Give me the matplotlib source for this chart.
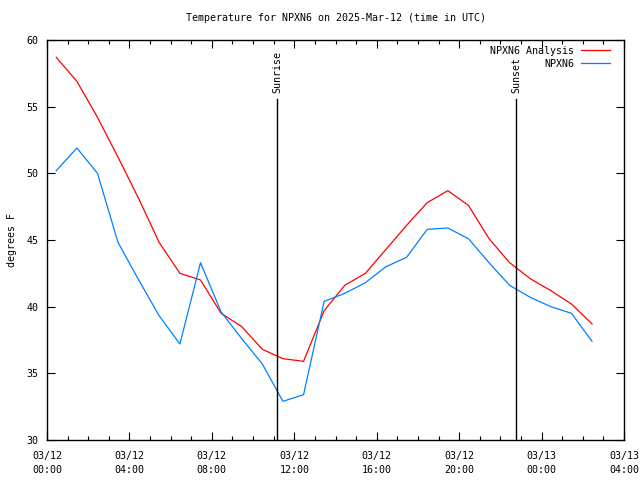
import matplotlib
matplotlib.use("Agg")
from matplotlib import pyplot as plt

# hours after 03/12 00:00 UTC
hours = [k + 0.45 for k in range(27)]

analysis = [58.7, 56.9, 54.2, 51.2, 48.1, 44.8, 42.5, 42.0, 39.5, 38.5,
            36.8, 36.1, 35.9, 39.7, 41.6, 42.5, 44.3, 46.1, 47.8, 48.7,
            47.6, 45.1, 43.3, 42.1, 41.2, 40.2, 38.7]
observed = [50.2, 51.9, 50.0, 44.8, 42.0, 39.3, 37.2, 43.3, 39.6, 37.6,
            35.7, 32.9, 33.4, 40.4, 41.0, 41.8, 43.0, 43.7, 45.8, 45.9,
            45.1, 43.3, 41.6, 40.7, 40.0, 39.5, 37.4]

sunrise = 11.17
sunset = 22.77

xtickPos = [0, 4, 8, 12, 16, 20, 24, 28]
xtickLabels = ["03/12\n00:00", "03/12\n04:00", "03/12\n08:00", "03/12\n12:00",
               "03/12\n16:00", "03/12\n20:00", "03/13\n00:00", "03/13\n04:00"]

plt.rcParams['font.family'] = ['DejaVu Sans Mono']
plt.rcParams['font.size'] = 7.2

fig = plt.figure(figsize=(6.4, 4.8), dpi=100)
ax = fig.add_axes([47 / 640, 40 / 480, 577 / 640, 400 / 480])

ax.plot(hours, analysis, color='#ff0000', lw=0.9, label='NPXN6 Analysis')
ax.plot(hours, observed, color='#0080ff', lw=0.9, label='NPXN6')

lineTop = (440 - 99) / 400
for xv, name in [(sunrise, 'Sunrise'), (sunset, 'Sunset')]:
    ax.axvline(xv, ymin=0, ymax=lineTop, color='black', lw=1)
    ax.text(xv, 30 + (lineTop + 0.015) * 30, name, rotation=90,
            ha='center', va='bottom')

ax.set_xlim(0, 28)
ax.set_ylim(30, 60)
ax.set_xticks(xtickPos)
ax.set_xticklabels(xtickLabels, linespacing=1.5)
ax.set_xticks(range(29), minor=True)
ax.set_yticks([30, 35, 40, 45, 50, 55, 60])
ax.tick_params(which='both', direction='in', top=True, right=True)
ax.tick_params(axis='x', pad=8)
ax.tick_params(axis='y', pad=6)
ax.tick_params(which='major', length=6, width=0.8)
ax.tick_params(which='minor', length=3, width=0.8)
for s in ax.spines.values():
    s.set_linewidth(1)

ax.set_ylabel('degrees F', labelpad=7)
ax.set_title('Temperature for NPXN6 on 2025-Mar-12 (time in UTC)',
             fontsize=7.2, pad=14)

ax.legend(loc='upper right', bbox_to_anchor=(0.976, 0.985), frameon=False,
          markerfirst=False, handlelength=2.9, borderaxespad=0,
          labelspacing=0.3, handletextpad=0.7, borderpad=0)

fig.savefig('out.png', dpi=100)
